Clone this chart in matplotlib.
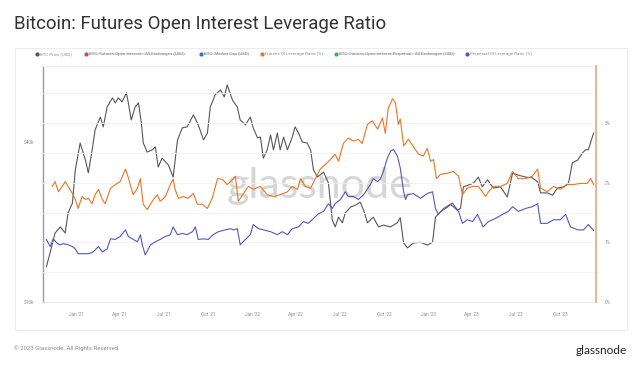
import matplotlib
matplotlib.use("Agg")
import matplotlib.pyplot as plt
import matplotlib.dates as mdates
import matplotlib.ticker as mticker
import pandas as pd
from matplotlib.patches import Rectangle
from matplotlib.lines import Line2D

plt.rcParams['font.family'] = ['Roboto', 'DejaVu Sans']

# ---------------- data ----------------
price_dates = ["2020-10-31","2020-11-08","2020-11-18","2020-11-29","2020-12-09","2020-12-15","2020-12-24","2020-12-30",
    "2021-01-09","2021-01-20","2021-01-26","2021-02-03","2021-02-09","2021-02-20","2021-02-26","2021-03-06","2021-03-17",
    "2021-03-23","2021-03-29","2021-04-06","2021-04-15","2021-04-19","2021-04-25","2021-05-03","2021-05-10","2021-05-16",
    "2021-05-20","2021-05-28","2021-06-08","2021-06-14","2021-06-20","2021-06-28","2021-07-11","2021-07-21","2021-07-30",
    "2021-08-09","2021-08-19","2021-09-01","2021-09-11","2021-09-22","2021-09-30","2021-10-06","2021-10-16","2021-10-27",
    "2021-11-04","2021-11-10","2021-11-21","2021-12-01","2021-12-07","2021-12-18","2021-12-28","2022-01-03","2022-01-12",
    "2022-01-18","2022-01-24","2022-02-01","2022-02-08","2022-02-14","2022-02-22","2022-02-28","2022-03-07","2022-03-15",
    "2022-03-25","2022-03-31","2022-04-07","2022-04-15","2022-04-25","2022-05-02","2022-05-08","2022-05-16","2022-05-29",
    "2022-06-08","2022-06-16","2022-06-22","2022-06-29","2022-07-07","2022-07-13","2022-07-24","2022-08-03","2022-08-13",
    "2022-08-20","2022-08-28","2022-09-09","2022-09-20","2022-09-30","2022-10-15","2022-10-29","2022-11-04","2022-11-11",
    "2022-11-19","2022-12-01","2022-12-16","2022-12-30","2023-01-10","2023-01-16","2023-01-26","2023-02-10","2023-02-20",
    "2023-03-03","2023-03-09","2023-03-15","2023-03-25","2023-04-05","2023-04-15","2023-04-23","2023-05-04","2023-05-16",
    "2023-05-31","2023-06-14","2023-06-25","2023-07-07","2023-07-22","2023-08-05","2023-08-16","2023-08-22","2023-09-05",
    "2023-09-16","2023-09-26","2023-10-09","2023-10-19","2023-10-27","2023-11-07","2023-11-17","2023-11-23","2023-11-29",
    "2023-12-10"]
btc_price = [13600,15400,18200,19200,18200,21700,23600,31500,
    39800,34300,30700,37500,44600,49900,45800,54400,58900,
    56400,58900,56900,61500,56400,48600,54400,56400,47400,
    39800,36800,37500,38500,32300,34900,32900,29600,40900,
    45400,45800,50800,46600,40900,43400,54400,60400,63100,
    59400,65900,57800,54400,48600,46600,49900,45400,41600,
    41900,34900,37500,42700,37500,43400,37500,41900,37500,
    41900,45800,43400,40100,39800,37500,31500,29600,30900,
    28100,20400,19200,20900,19900,21700,22800,23200,23800,
    22200,19900,20900,19200,19500,19200,19900,20800,16700,
    16000,16700,16800,16400,16800,20900,21900,22800,23600,
    22200,22600,27200,27600,28100,29600,27200,28900,26900,
    27200,24900,30700,30100,29600,29400,28400,25800,25800,
    25300,26900,27200,28100,33500,34300,36500,37500,37500,
    43400]

futures_dates = ["2020-11-12","2020-11-18","2020-11-25","2020-12-03","2020-12-09","2020-12-15","2020-12-24","2020-12-30",
    "2021-01-05","2021-01-13","2021-01-20","2021-01-26","2021-02-03","2021-02-09","2021-02-16","2021-02-24","2021-03-02",
    "2021-03-13","2021-03-23","2021-04-02","2021-04-13","2021-04-17","2021-04-23","2021-04-29","2021-05-08","2021-05-14",
    "2021-05-18","2021-05-20","2021-05-28","2021-06-04","2021-06-10","2021-06-18","2021-06-24","2021-07-05","2021-07-15",
    "2021-07-21","2021-07-25","2021-08-01","2021-08-11","2021-08-21","2021-09-01","2021-09-09","2021-09-19","2021-09-30",
    "2021-10-10","2021-10-21","2021-10-31","2021-11-10","2021-11-17","2021-11-27","2021-12-03","2021-12-14","2021-12-24",
    "2022-01-03","2022-01-18","2022-02-01","2022-02-14","2022-02-28","2022-03-15","2022-03-25","2022-04-05","2022-04-11",
    "2022-04-21","2022-05-02","2022-05-12","2022-05-22","2022-06-02","2022-06-12","2022-06-22","2022-06-29","2022-07-09",
    "2022-07-19","2022-07-30","2022-08-09","2022-08-17","2022-08-28","2022-09-07","2022-09-18","2022-09-28","2022-10-04",
    "2022-10-10","2022-10-19","2022-10-25","2022-10-31","2022-11-04","2022-11-11","2022-11-21","2022-12-01","2022-12-12",
    "2022-12-22","2022-12-30","2023-01-06","2023-01-12","2023-01-18","2023-01-26","2023-02-10","2023-02-22","2023-03-05",
    "2023-03-13","2023-03-23","2023-04-03","2023-04-15","2023-04-30","2023-05-06","2023-05-16","2023-05-31","2023-06-14",
    "2023-06-25","2023-07-07","2023-07-22","2023-08-05","2023-08-16","2023-08-22","2023-09-05","2023-09-18","2023-10-02",
    "2023-10-17","2023-10-29","2023-11-13","2023-11-27","2023-12-04","2023-12-10"]
futures_oi_lev = [1.94,2.02,1.85,1.94,2.02,1.94,1.82,1.72,
    1.57,1.77,1.72,1.74,1.65,1.80,1.89,1.72,1.65,
    1.91,1.97,2.02,2.23,2.14,1.97,1.80,1.91,2.07,
    1.77,1.64,1.55,1.64,1.72,1.80,1.69,1.77,1.97,
    2.06,1.89,1.74,1.77,1.74,1.82,1.64,1.64,1.57,
    1.74,2.07,2.06,1.97,2.02,2.11,1.69,1.82,1.94,
    1.89,1.94,1.80,1.77,1.80,1.85,1.94,1.89,2.07,
    1.94,1.91,2.07,2.23,2.31,2.39,2.48,2.36,2.66,
    2.75,2.70,2.73,2.66,2.98,3.04,2.90,3.09,2.83,
    3.25,3.41,3.34,2.98,3.07,2.62,2.73,2.61,2.48,
    2.45,2.58,2.36,2.39,2.07,2.14,2.16,2.19,2.11,
    1.80,1.91,1.94,1.94,1.77,1.85,1.94,1.94,1.99,
    2.19,2.07,2.07,2.11,2.23,1.91,1.85,1.94,1.89,
    1.97,1.97,1.99,1.99,2.07,1.97]

perp_dates = ["2020-10-31","2020-11-08","2020-11-14","2020-11-23","2020-11-29","2020-12-05","2020-12-15","2020-12-24",
    "2020-12-30","2021-01-05","2021-01-16","2021-01-26","2021-02-05","2021-02-16","2021-02-24","2021-03-06","2021-03-13",
    "2021-03-23","2021-04-02","2021-04-13","2021-04-19","2021-04-29","2021-05-08","2021-05-14","2021-05-18","2021-05-24",
    "2021-06-04","2021-06-14","2021-06-24","2021-07-05","2021-07-15","2021-07-21","2021-07-30","2021-08-09","2021-08-19",
    "2021-08-30","2021-09-05","2021-09-11","2021-09-22","2021-10-02","2021-10-12","2021-10-23","2021-11-06","2021-11-17",
    "2021-11-23","2021-12-01","2021-12-07","2021-12-18","2021-12-28","2022-01-03","2022-01-14","2022-01-24","2022-02-08",
    "2022-02-22","2022-03-04","2022-03-15","2022-03-25","2022-04-07","2022-04-17","2022-04-27","2022-05-08","2022-05-18",
    "2022-05-29","2022-06-08","2022-06-16","2022-06-22","2022-07-03","2022-07-13","2022-07-19","2022-07-30","2022-08-09",
    "2022-08-20","2022-09-03","2022-09-09","2022-09-18","2022-09-24","2022-09-30","2022-10-08","2022-10-15","2022-10-21",
    "2022-10-29","2022-11-04","2022-11-11","2022-11-15","2022-11-19","2022-12-01","2022-12-16","2022-12-30","2023-01-10",
    "2023-01-16","2023-01-22","2023-02-02","2023-02-16","2023-02-26","2023-03-05","2023-03-13","2023-03-23","2023-04-03",
    "2023-04-13","2023-04-25","2023-05-06","2023-05-20","2023-06-04","2023-06-16","2023-06-25","2023-07-07","2023-07-22",
    "2023-08-05","2023-08-16","2023-08-22","2023-09-05","2023-09-18","2023-10-02","2023-10-13","2023-10-23","2023-11-07",
    "2023-11-19","2023-11-29","2023-12-10"]
perp_oi_lev = [1.05,0.93,1.06,0.98,0.96,0.98,0.96,0.93,
    0.89,0.81,0.81,0.81,0.84,0.93,0.84,0.89,1.06,
    1.05,1.10,1.21,1.10,1.05,1.01,1.13,0.96,0.79,
    0.96,1.01,1.05,1.10,1.13,1.26,1.13,1.15,1.13,
    1.18,1.26,1.05,1.06,1.05,1.13,1.18,1.21,1.23,
    1.21,1.23,0.96,1.05,1.13,1.30,1.23,1.21,1.18,
    1.13,1.18,1.13,1.23,1.26,1.35,1.32,1.40,1.48,
    1.52,1.65,1.57,1.65,1.72,1.85,1.77,1.77,1.72,
    1.80,1.97,2.07,2.02,2.07,2.19,2.41,2.53,2.56,
    2.45,2.25,1.85,1.72,1.80,1.82,1.74,1.82,1.85,
    1.57,1.47,1.57,1.64,1.57,1.52,1.32,1.38,1.35,
    1.47,1.26,1.35,1.40,1.47,1.52,1.60,1.52,1.57,
    1.60,1.65,1.32,1.32,1.38,1.38,1.47,1.26,1.21,
    1.21,1.30,1.20]

legend_labels = ["BTC Price (USD)", "BTC: Futures Open Interest - All Exchanges (USD)", "BTC: Market Cap (USD)",
                 "Futures OI Leverage Ratio (%)", "BTC: Futures Open Interest Perpetual - All Exchanges (USD)",
                 "Perpetual OI Leverage Ratio (%)"]
legend_hidden = [False, True, True, False, True, False]
x_tick_dates = ["2021-01-01","2021-04-01","2021-07-01","2021-10-01","2022-01-01","2022-04-01","2022-07-01",
                "2022-10-01","2023-01-01","2023-04-01","2023-07-01","2023-10-01"]
left_ticks = [10000, 40000]
right_ticks = [0, 1, 2, 3]

# ---------------- style ----------------
C_PRICE = "#575757"
C_FUT = "#ee7424"
C_PERP = "#5258bd"
legend_colors = [C_PRICE, "#d9434e", "#2f6fd6", C_FUT, "#3cb44b", C_PERP]
TXT = "#8c8c8c"

W, H = 640, 369
fig = plt.figure(figsize=(W/100, H/100), dpi=100)
fig.patch.set_facecolor("white")

# panel
fig.patches.append(Rectangle((15/W, 1-330/H), 612/W, 282/H, transform=fig.transFigure,
                             facecolor="white", edgecolor="#ececec", linewidth=0.8, zorder=-5))

ax = fig.add_axes([43/W, 1-302/H, 553/W, 236/H])
ax2 = ax.twinx()
ax.set_zorder(2)
ax2.set_zorder(3)

pd_price = pd.to_datetime(price_dates)
pd_fut = pd.to_datetime(futures_dates)
pd_perp = pd.to_datetime(perp_dates)

ax.plot(pd_price, btc_price, color=C_PRICE, lw=0.8, zorder=3)
ax2.plot(pd_fut, futures_oi_lev, color=C_FUT, lw=0.8, zorder=3)
ax2.plot(pd_perp, perp_oi_lev, color=C_PERP, lw=0.8, zorder=3)

ax.set_yscale("log")
ax.set_ylim(10000, 77700)
ax2.set_ylim(0, 3.96)
ax.set_xlim(pd.Timestamp("2020-10-24"), pd.Timestamp("2023-12-15"))

ax.yaxis.set_major_locator(mticker.FixedLocator(left_ticks))
ax.yaxis.set_minor_locator(mticker.NullLocator())
ax.yaxis.set_major_formatter(mticker.FuncFormatter(lambda v, p: f"${int(v/1000)}k"))
ax2.yaxis.set_major_locator(mticker.FixedLocator(right_ticks))
ax2.yaxis.set_major_formatter(mticker.FuncFormatter(lambda v, p: f"{int(v)}%"))

ax.set_xticks(pd.to_datetime(x_tick_dates))
ax.xaxis.set_major_formatter(mdates.DateFormatter("%b '%y"))

# grid (faint, right-axis based)
for g in [0.5, 1.0, 1.5, 2.0, 2.5, 3.0, 3.5]:
    ax2.axhline(g, color="#f1f1f1", lw=0.6, zorder=0)
ax2.axhline(3.96, color="#eeeeee", lw=0.8, zorder=0)

for a in (ax, ax2):
    for s in a.spines.values():
        s.set_visible(False)
    a.tick_params(labelsize=3.4, colors=TXT, length=0)
ax.spines["left"].set_visible(True)
ax.spines["left"].set_color("#9b9b9b")
ax.spines["left"].set_linewidth(1.0)
ax2.spines["right"].set_visible(True)
ax2.spines["right"].set_color("#e5a57c")
ax2.spines["right"].set_linewidth(1.2)
ax.spines["bottom"].set_visible(True)
ax.spines["bottom"].set_color("#e6e6e6")
ax.spines["bottom"].set_linewidth(0.6)
ax.tick_params(axis="x", pad=7)
ax.tick_params(axis="y", pad=6)
ax2.tick_params(axis="y", pad=6)
ax.set_facecolor("none")
ax2.set_facecolor("none")

# watermark
ax.text(0.5, 0.49, "glassnode", transform=ax.transAxes, ha="center", va="center",
        fontsize=31, color="#d6d6d6", family=["Lato", "DejaVu Sans"], zorder=1)

# title
fig.text(14/W, 1-29/H, "Bitcoin: Futures Open Interest Leverage Ratio", ha="left", va="baseline",
         fontsize=13.4, color="#333333")

# legend
legend_x = [37, 86, 201, 262, 336, 467]
ly = 1 - 54/H
renderer = fig.canvas.get_renderer()
for xs, lab, col, hid in zip(legend_x, legend_labels, legend_colors, legend_hidden):
    fig.lines.append(Line2D([(xs)/W], [ly], transform=fig.transFigure, marker="o", markersize=2.0,
                            color=col, linestyle="none"))
    t = fig.text((xs+3)/W, ly, lab, ha="left", va="center", fontsize=3.2, color=TXT)
    if hid:
        bb = t.get_window_extent(renderer=renderer)
        fig.lines.append(Line2D([bb.x0/W, bb.x1/W], [ly, ly], transform=fig.transFigure,
                                color=TXT, lw=0.35))

# footer
fig.text(14/W, 1-348/H, "© 2023 Glassnode. All Rights Reserved.", ha="left", va="center",
         fontsize=4.3, color=TXT)
fig.text(627/W, 1-350/H, "glassnode", ha="right", va="center", fontsize=8.5, color="#222222",
         family=["Lato", "DejaVu Sans"])

fig.savefig("out.png", dpi=100, facecolor="white")
